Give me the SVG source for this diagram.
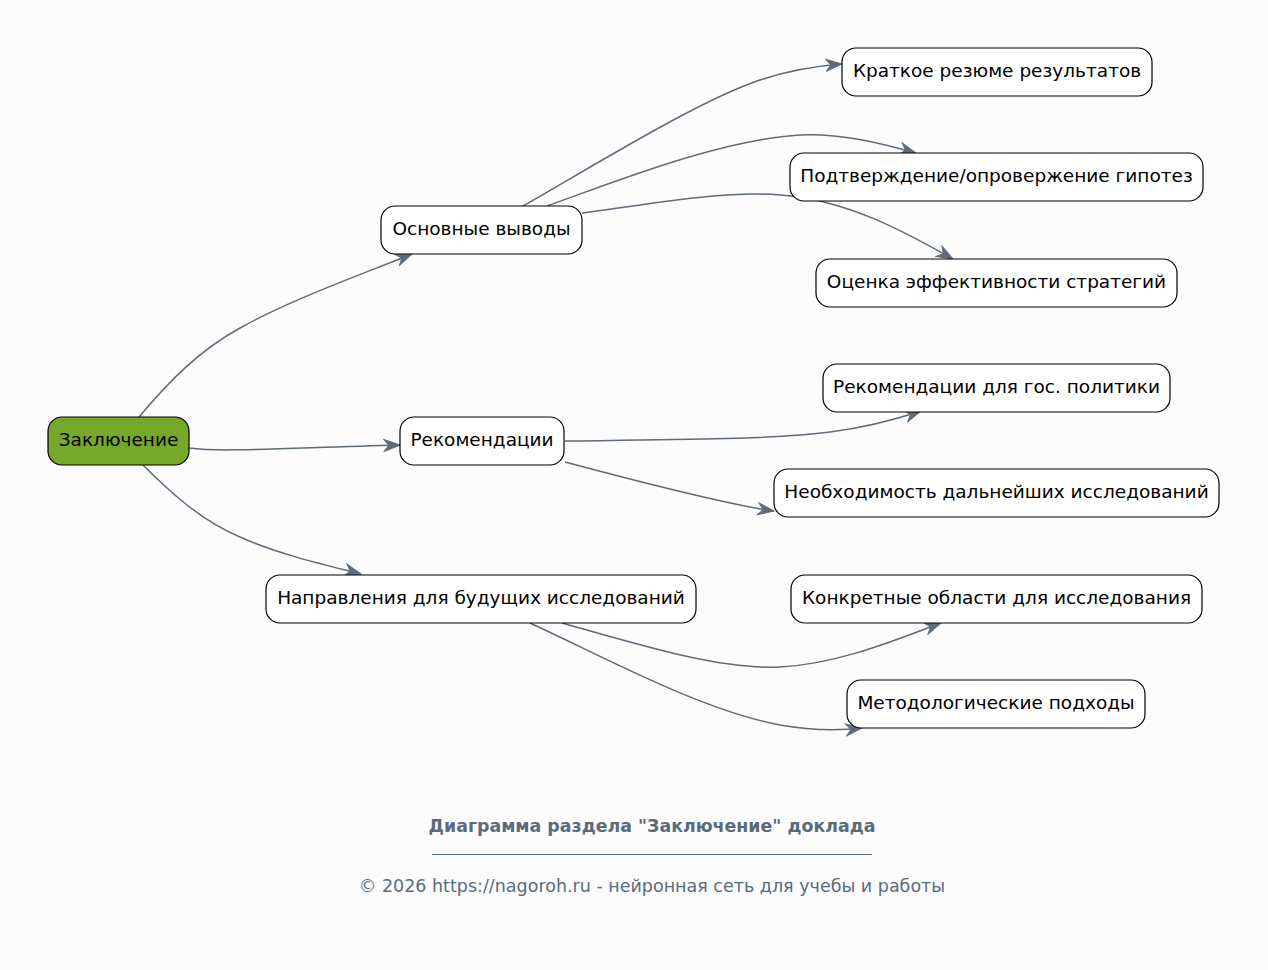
<svg xmlns="http://www.w3.org/2000/svg" width="1268" height="970" viewBox="0 0 1268 970">
<style>
.n rect{fill:#ffffff;stroke:#000;stroke-width:1.2}
.n text{font-family:"DejaVu Sans",sans-serif;font-size:18.5px;fill:#000;text-anchor:middle;dominant-baseline:central}
#root rect{fill:#76a92a}
.e path{fill:none;stroke:#5e6b78;stroke-width:1.5;marker-end:url(#arr)}
.f{font-family:"DejaVu Sans",sans-serif;fill:#5a6b7d;text-anchor:middle}
</style>
<defs>
<marker id="arr" viewBox="0 0 18 14" refX="17" refY="7" markerWidth="18" markerHeight="14" markerUnits="userSpaceOnUse" orient="auto">
<path d="M1,1 L17,7 L1,13 L6,7 Z" fill="#5e6b78" stroke="#5e6b78" stroke-width="1" stroke-linejoin="miter"/>
</marker>
</defs>
<rect width="1268" height="970" fill="#fcfcfc"/>
<g id="edges" class="e">
<path d="M139,417 C170,380 200,350 240,328 C290,300 360,275 412,254"/>
<path d="M189,448 C220,452 260,449 400,445"/>
<path d="M143,465 C170,492 200,520 240,537 C280,555 330,566 361,574"/>
<path d="M523,206 C600,162 700,100 760,80 C790,70 815,66 842,64"/>
<path d="M547,206 C620,180 720,140 800,135 C840,133 880,143 916,153"/>
<path d="M582,213 C640,206 720,190 780,195 C850,200 910,235 953,259"/>
<path d="M565,441 C650,440 770,440 830,432 C870,427 900,418 921,411"/>
<path d="M565,462 C640,482 730,505 774,511"/>
<path d="M562,623 C640,645 720,670 780,667 C840,664 900,638 941,623"/>
<path d="M530,623 C600,655 700,710 780,725 C820,732 845,730 862,728"/>
</g>
<g id="root" class="n"><rect x="48" y="417" width="141" height="48" rx="14"/><text x="118.5" y="439">Заключение</text></g>
<g id="n1" class="n"><rect x="381" y="206" width="201" height="48" rx="14"/><text x="481.5" y="228">Основные выводы</text></g>
<g id="n2" class="n"><rect x="400" y="417" width="164" height="48" rx="14"/><text x="482" y="439">Рекомендации</text></g>
<g id="n3" class="n"><rect x="266" y="575" width="430" height="48" rx="14"/><text x="481" y="597">Направления для будущих исследований</text></g>
<g id="n11" class="n"><rect x="842" y="48" width="310" height="48" rx="14"/><text x="997" y="70">Краткое резюме результатов</text></g>
<g id="n12" class="n"><rect x="790" y="153" width="413" height="48" rx="14"/><text x="996.5" y="175">Подтверждение/опровержение гипотез</text></g>
<g id="n13" class="n"><rect x="816" y="259" width="361" height="48" rx="14"/><text x="996.5" y="281">Оценка эффективности стратегий</text></g>
<g id="n21" class="n"><rect x="823" y="364" width="347" height="48" rx="14"/><text x="996.5" y="386">Рекомендации для гос. политики</text></g>
<g id="n22" class="n"><rect x="774" y="469" width="445" height="48" rx="14"/><text x="996.5" y="491">Необходимость дальнейших исследований</text></g>
<g id="n31" class="n"><rect x="791" y="575" width="411" height="48" rx="14"/><text x="996.5" y="597">Конкретные области для исследования</text></g>
<g id="n32" class="n"><rect x="847" y="680" width="298" height="48" rx="14"/><text x="996" y="702">Методологические подходы</text></g>
<g id="footer">
<text class="f" x="652" y="832" font-size="17.4" font-weight="bold">Диаграмма раздела "Заключение" доклада</text>
<line x1="432" y1="854.5" x2="872" y2="854.5" stroke="#5a6b7d" stroke-width="1"/>
<text class="f" x="652" y="892" font-size="17.5">© 2026 https://nagoroh.ru - нейронная сеть для учебы и работы</text>
</g>
</svg>
